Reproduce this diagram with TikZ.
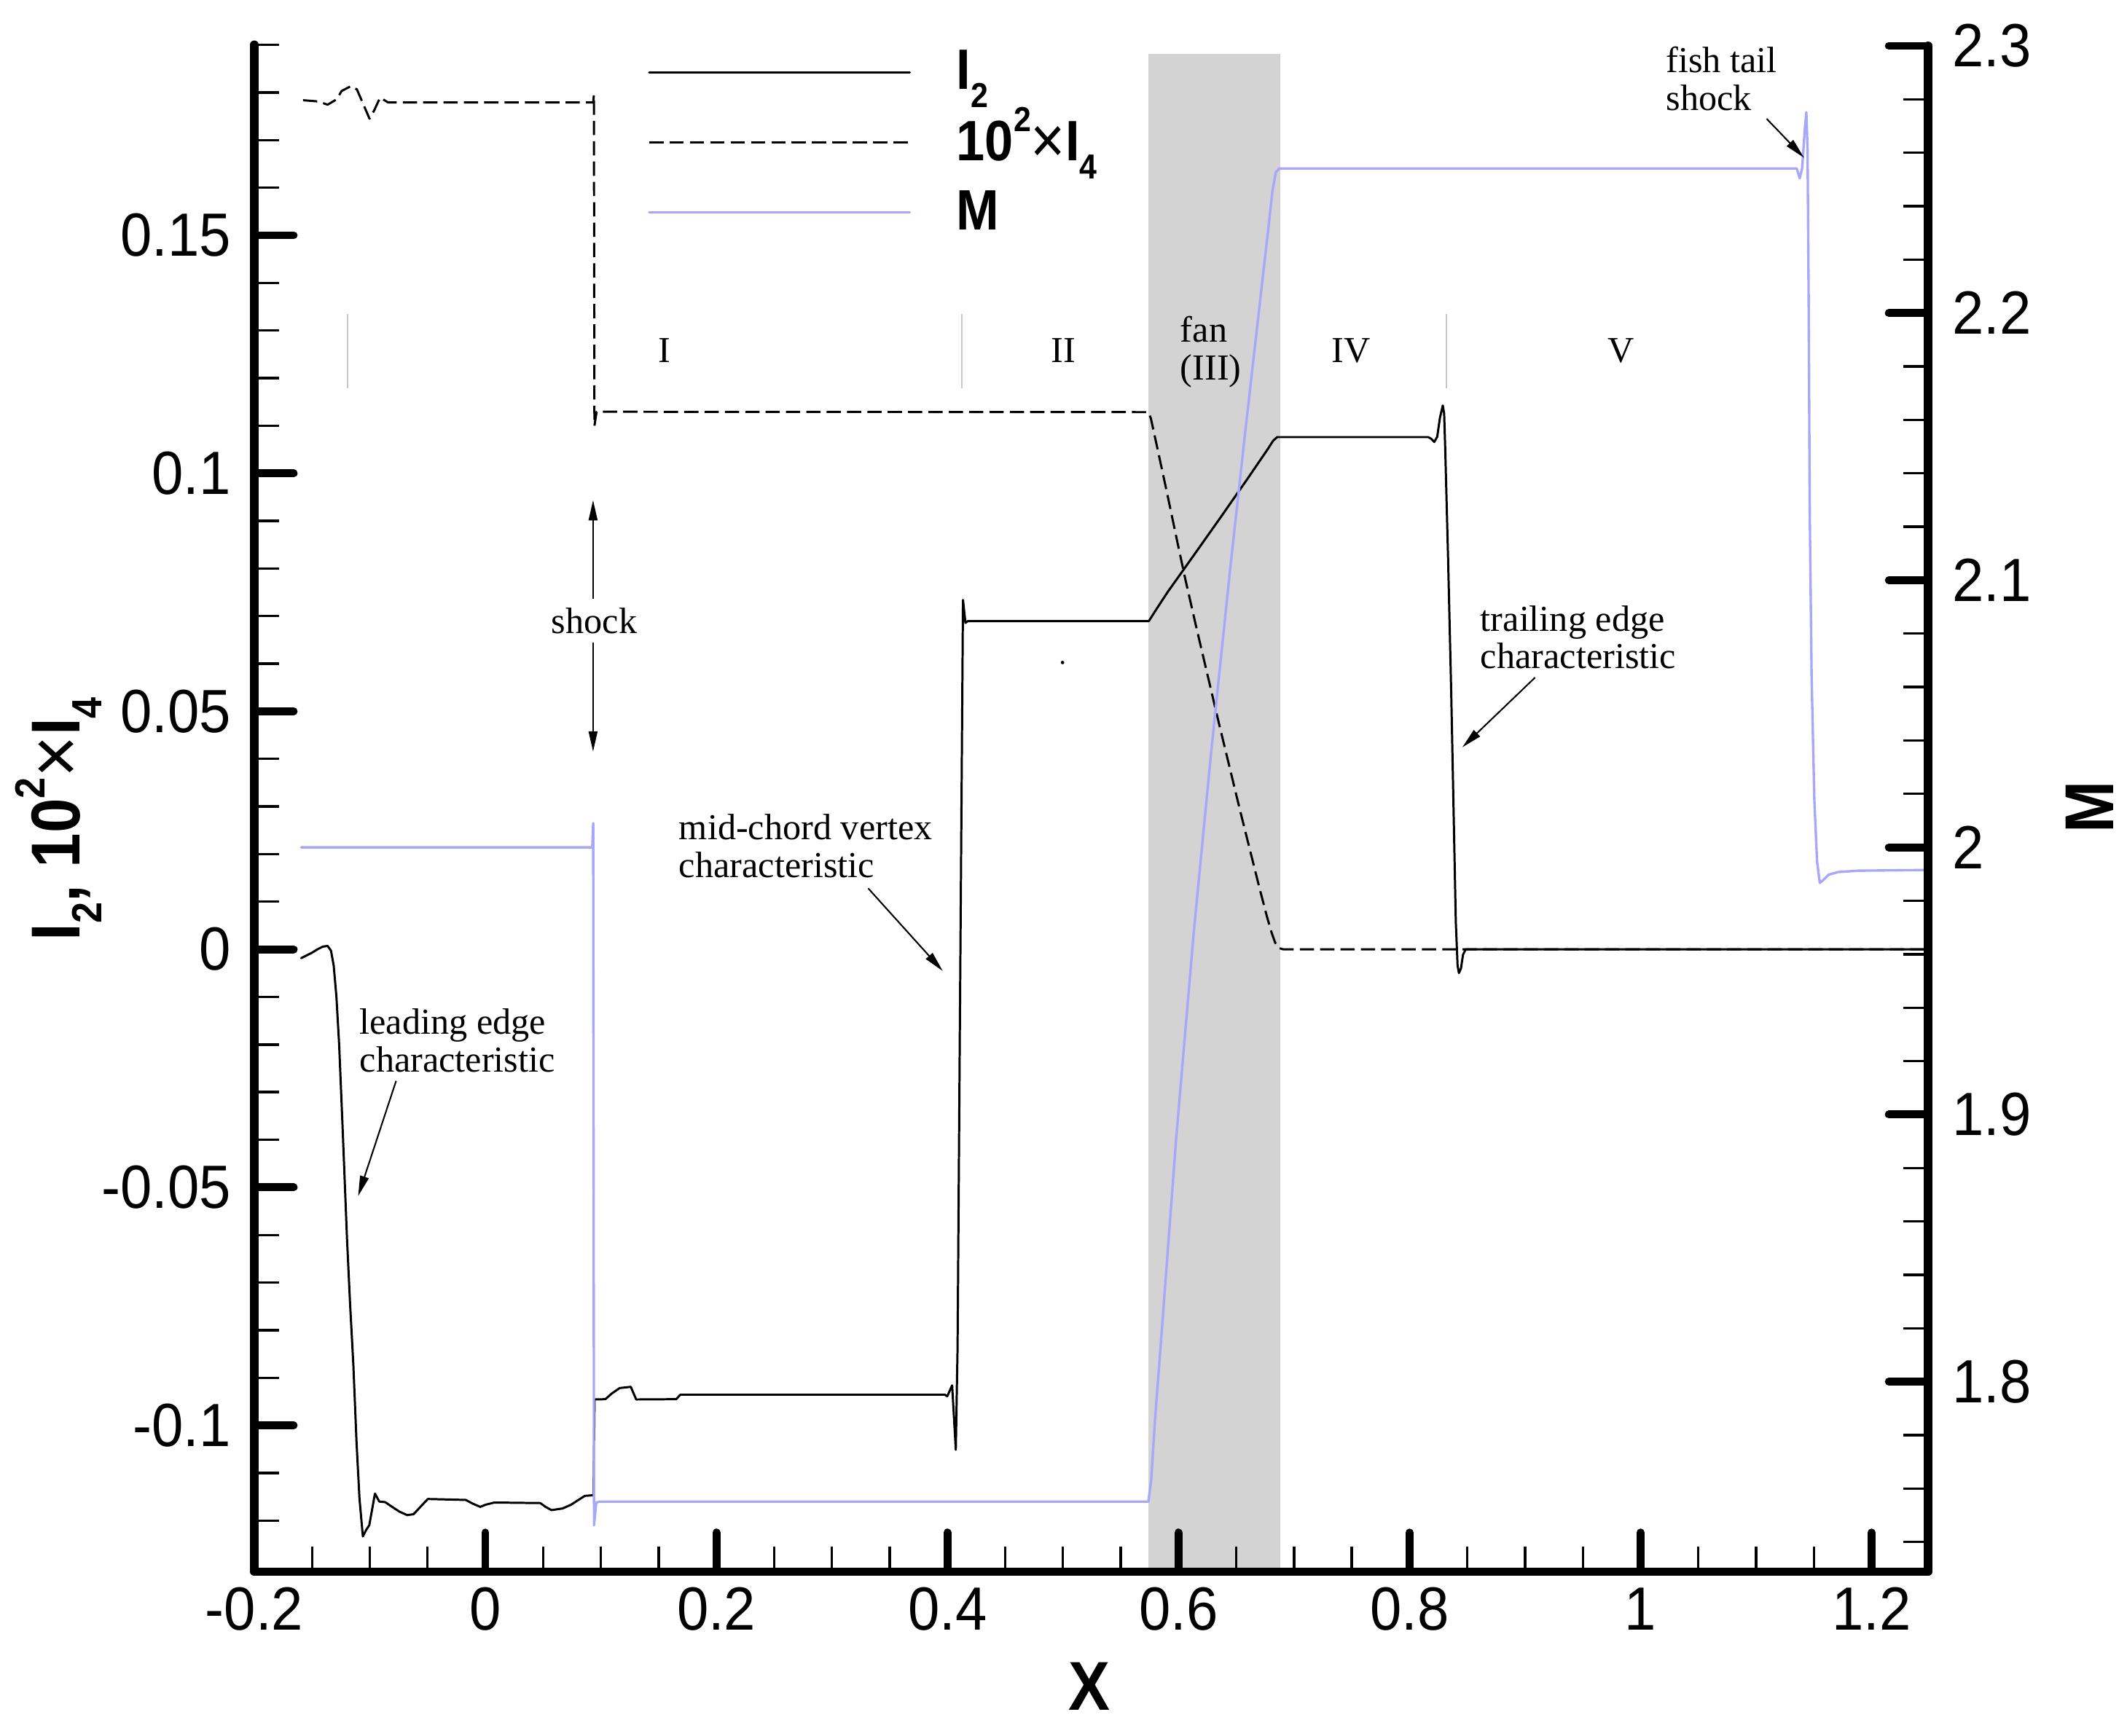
\documentclass[tikz,border=0pt]{standalone}
\usepackage{fontspec}
\usepackage{graphicx}
\setmainfont{Liberation Serif}
\newfontfamily\tickfont{Liberation Sans}[FakeStretch=0.93]
\newfontfamily\titlefont{Liberation Sans}[FakeStretch=0.9]
\usetikzlibrary{arrows.meta}
\definecolor{mblue}{RGB}{168,168,250}
\definecolor{fangray}{RGB}{211,211,211}
\definecolor{sepgray}{RGB}{200,200,200}
\newcommand\lsub[1]{\raisebox{-0.31em}{\scalebox{0.61}{#1}}}
\newcommand\lsup[1]{\raisebox{0.51em}{\scalebox{0.61}{#1}}}
\newcommand\mytimes{{\mdseries\raisebox{-0.04em}{\scalebox{1.15}{×}}}}
\begin{document}
\begin{tikzpicture}[x=1pt,y=-1pt,
  curve/.style={line width=1.6pt,line join=round,line cap=round},
  axisline/.style={line width=6.3pt,line cap=round,line join=round},
  majortick/.style={line width=5.8pt,line cap=round},
  minortick/.style={line width=1.8pt},
  ticklabel/.style={inner sep=0pt,font=\tickfont\fontsize{45}{54}\selectfont},
  legendtext/.style={inner sep=0pt,anchor=base west,font=\titlefont\bfseries\fontsize{42}{50}\selectfont},
  axistitle/.style={inner sep=0pt,font=\titlefont\bfseries\fontsize{51}{60}\selectfont},
  note/.style={inner sep=0pt,font=\fontsize{27}{27.7}\selectfont,align=left},
  annarrow/.style={line width=1.1pt,-{Triangle[length=15pt,width=6.5pt]}},
  sepline/.style={sepgray,line width=1pt},
  I2curve/.style={curve,black},
  I4curve/.style={curve,line cap=butt,dash pattern=on 10.5pt off 4.5pt},
  Mcurve/.style={curve,mblue,line width=1.8pt}]
\useasboundingbox (0,0) rectangle (1568,1279.6);

% fan region
\fill[fangray] (846.6,40) rectangle (943.8,1156);

% region separators
\foreach \sx in {256.3,709,1066.3}{\draw[sepline] (\sx,231.4) -- (\sx,286.2);}

% I2 curve
\draw[I2curve] (222,706.5) -- (226,704.5) -- (230,702.5) -- (234,700) -- (238,698) -- (241.5,697.5) -- (244,701) -- (246,712) -- (248,735) -- (250,770) -- (252.5,830) -- (255.8,913.2) -- (258,960) -- (260.5,1006.7) -- (262.8,1062.8) -- (265,1105) -- (267.5,1132.9) -- (270,1128) -- (272.2,1124.7) -- (274.5,1112) -- (276.4,1101.3) -- (279.6,1107.2) -- (283.9,1107.6) -- (288.5,1110.7) -- (294.4,1114.6) -- (300.2,1117.2) -- (304.9,1116.5) -- (310,1111) -- (315.4,1105.3) -- (343.4,1106) -- (348,1108.5) -- (354,1111.1) -- (358,1109.5) -- (364.5,1107.9) -- (398.3,1108.3) -- (402,1111) -- (406.5,1113.5) -- (414.7,1112.3) -- (421,1109.5) -- (426.4,1106) -- (431.1,1103) -- (437.5,1102.5) -- (438.3,1031.9) -- (446.3,1031.7) -- (451,1027.5) -- (456.8,1023.5) -- (465,1022.6) -- (469,1031.9) -- (498.5,1031.7) -- (501.5,1028.4) -- (696.5,1028.4) -- (698.3,1029.6) -- (701.9,1021.5) -- (704.6,1069) -- (705.9,993.8) -- (708.1,687.6) -- (709.9,442.3) -- (711.7,459.3) -- (713.5,458) -- (846.9,458) -- (851,451.5) -- (856,443.8) -- (861,436.2) -- (866,429.2) -- (880,409.5) -- (900,381.2) -- (920,352.5) -- (935,330.5) -- (938.5,325) -- (941.5,322.3) -- (1052.8,322.3) -- (1055,323.5) -- (1057.3,325.9) -- (1059.5,322) -- (1061.5,308) -- (1063.6,299) -- (1064.6,305) -- (1065.4,331.3) -- (1067.5,411.9) -- (1069.8,510.3) -- (1071.8,610) -- (1073.2,680) -- (1074.5,712) -- (1075.5,717.5) -- (1077,714) -- (1078.5,704) -- (1080.5,700) -- (1421.4,700);

% 10^2 x I4 curve
\draw[I4curve] (223.4,73.9) -- (234.7,74.8) -- (241.5,77.2) -- (248.4,73.1) -- (251.8,67.1) -- (258.7,63.5) -- (263.1,65.9) -- (272.4,87.5) -- (275.8,81.5) -- (280.2,71.9) -- (286,75.5) -- (437.3,75.5) -- (437.8,70) -- (438.2,314) -- (439.8,303.6) -- (846.6,303.9) -- (848.4,308.5) -- (852,325) -- (860,362) -- (868,400) -- (874,428) -- (882,463) -- (890,497) -- (898,531) -- (906,564) -- (914,597) -- (922,629) -- (928,653) -- (934,676) -- (937.5,688) -- (940,695) -- (942.5,699) -- (946,700) -- (1421.4,700);

% M curve
\draw[Mcurve] (222,624.8) -- (436.6,624.8) -- (437.3,607) -- (437.9,1124.7) -- (439.5,1108) -- (442,1107.2) -- (846.6,1107.2) -- (848.7,1090.5) -- (851.4,1047.5) -- (855.5,993.8) -- (867,840) -- (880,687.6) -- (893,553) -- (906.9,419) -- (918,318) -- (929.7,214.9) -- (935,168.5) -- (938,141) -- (940.5,127) -- (943,124.3) -- (946,124.2) -- (1324.5,124.2) -- (1326.7,131.5) -- (1328.5,124) -- (1330.5,95) -- (1331.6,82.7) -- (1332.5,110) -- (1333.3,220) -- (1334.1,376) -- (1335.5,500) -- (1337.5,590) -- (1339.5,635) -- (1341.5,651) -- (1344,649) -- (1348,645) -- (1355,643) -- (1370,642) -- (1421.4,641.5);

% stray dot
\fill (783.3,488.5) circle (1.3);

% axes
\draw[axisline] (187.5,33) -- (187.5,1159) -- (1421.4,1159) -- (1421.4,33.8);

% bottom ticks
\foreach \k in {-3,...,23}{
  \pgfmathtruncatemacro{\r}{mod(\k+100,4)}
  \ifnum\r=0\relax\else\draw[minortick] ({357.8+\k*42.58},1159) -- ++(0,-18.4);\fi}
\foreach \k/\lab in {-4/-0.2,0/0,4/0.2,8/0.4,12/0.6,16/0.8,20/1,24/1.2}{
  \ifnum\k>-4\relax\draw[majortick] ({357.8+\k*42.58},1159) -- ++(0,-29);\fi
  \node[ticklabel,anchor=base] (xl\k) at ({357.8+\k*42.58},1202) {\lab};}

% left ticks
\foreach \k in {-12,...,19}{
  \pgfmathtruncatemacro{\r}{mod(\k+100,5)}
  \ifnum\r=0\relax\else\draw[minortick] (187.5,{700-\k*35.1}) -- ++(18.4,0);\fi}
\foreach \k/\lab in {-10/-0.1,-5/-0.05,0/0,5/0.05,10/0.1,15/0.15}{
  \draw[majortick] (187.5,{700-\k*35.1}) -- ++(29,0);
  \node[ticklabel,anchor=east] (yl\k) at (170.4,{700-\k*35.1}) {\lab};}

% right ticks
\foreach \k in {-13,...,14}{
  \pgfmathtruncatemacro{\r}{mod(\k+100,5)}
  \ifnum\r=0\relax\else\draw[minortick] (1421.4,{624.8-\k*39.4}) -- ++(-18.4,0);\fi}
\foreach \k/\lab in {-10/1.8,-5/1.9,0/2,5/2.1,10/2.2,15/2.3}{
  \draw[majortick] (1421.4,{624.8-\k*39.4}) -- ++(-29,0);
  \node[ticklabel,anchor=west] (ml\k) at (1439,{624.8-\k*39.4}) {\lab};}

% axis titles
\node[axistitle,anchor=base] (xtitle) at (803,1261) {X};
\node[axistitle,anchor=base,rotate=90] (mtitle) at (1558,595) {M};
\node[axistitle,anchor=base west,rotate=90] (ytitle) at (59,694) {I\lsub{2}, 10\lsup{2}\mytimes I\lsub{4}};

% legend
\draw[I2curve] (478.6,53.5) -- (670.7,53.5);
\draw[I4curve] (478.6,105) -- (670.7,105);
\draw[Mcurve] (478.6,156.5) -- (670.7,156.5);
\node[legendtext] (legI2) at (705,66) {I\lsub{2}};
\node[legendtext] (legI4) at (705,118.6) {10\lsup{2}\mytimes I\lsub{4}};
\node[legendtext] (legM) at (705,169.3) {M};

% region labels
\node[note,anchor=base] (rI) at (490,267) {I};
\node[note,anchor=base] (rII) at (784,267) {II};
\node[note,anchor=north west] (rfan) at (870,233.2) {fan\\(III)};
\node[note,anchor=base] (rIV) at (996,267) {IV};
\node[note,anchor=base] (rV) at (1195,267) {V};

% annotations
\node[note,anchor=base west,inner sep=0pt] (shocklbl) at (406.4,467.3) {shock};
\coordinate (shockA) at (437.2,441.3);
\coordinate (shockTop) at (437.2,368.8);
\coordinate (shockB) at (437.2,473.6);
\coordinate (shockBot) at (437.2,554.2);
\draw[annarrow] (shockA) -- (shockTop);
\draw[annarrow] (shockB) -- (shockBot);

\node[note,anchor=north west] (midlbl) at (500.4,600.2) {mid-chord vertex\\characteristic};
\coordinate (midA) at (640,655);
\coordinate (midTip) at (695,716);
\draw[annarrow] (midA) -- (midTip);

\node[note,anchor=north west] (leadlbl) at (265,743.6) {leading edge\\characteristic};
\coordinate (leadA) at (292,797);
\coordinate (leadTip) at (264,882);
\draw[annarrow] (leadA) -- (leadTip);

\node[note,anchor=north west] (traillbl) at (1091.3,446.3) {trailing edge\\characteristic};
\coordinate (trailA) at (1131.6,499.6);
\coordinate (trailTip) at (1078,551);
\draw[annarrow] (trailA) -- (trailTip);

\node[note,anchor=north west] (fishlbl) at (1228,34.4) {fish tail\\shock};
\coordinate (fishA) at (1302.3,87.5);
\coordinate (fishTip) at (1329.9,116.3);
\draw[annarrow] (fishA) -- (fishTip);
\end{tikzpicture}
\end{document}
